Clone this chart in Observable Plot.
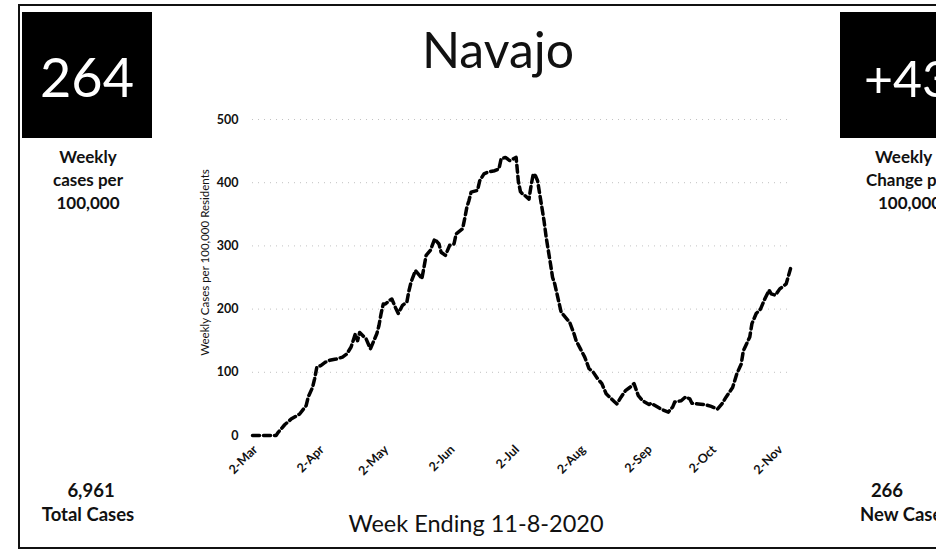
<!DOCTYPE html>
<html>
<head>
<meta charset="utf-8">
<script src="https://cdn.jsdelivr.net/npm/d3@7"></script>
<script src="https://cdn.jsdelivr.net/npm/@observablehq/plot@0.6"></script>
<style>
  html, body { margin: 0; padding: 0; background: #fff; }
  #page { position: relative; width: 936px; height: 554px; overflow: hidden; background: #fff; font-family: Lato, "Open Sans", sans-serif; }
  #overlay { position: absolute; left: 0; top: 0; }
  #chart { position: absolute; left: 160px; top: 100px; }
</style>
</head>
<body>
<div id="page">
  <svg id="overlay" width="936" height="554" font-family="Lato, 'Open Sans', sans-serif">
    <rect x="19" y="5" width="930" height="543" fill="none" stroke="#111" stroke-width="2"></rect>
    <rect x="22" y="12" width="130" height="126" fill="#000"></rect>
    <rect x="840" y="12" width="130" height="126" fill="#000"></rect>
    <text x="87" y="97" text-anchor="middle" font-size="54" fill="#fff">264</text>
    <text x="864" y="97" text-anchor="start" font-size="50" fill="#fff">+43</text>
    <g font-weight="bold" font-size="17" fill="#111">
      <text x="88" y="163" text-anchor="middle">Weekly</text>
      <text x="88" y="186" text-anchor="middle">cases per</text>
      <text x="88" y="209" text-anchor="middle">100,000</text>
      <text x="875" y="163" text-anchor="start">Weekly</text>
      <text x="866" y="186" text-anchor="start">Change per</text>
      <text x="878" y="209" text-anchor="start">100,000</text>
    </g>
    <g font-weight="bold" font-size="18.5" fill="#111">
      <text x="91" y="497" text-anchor="middle">6,961</text>
      <text x="88" y="521" text-anchor="middle">Total Cases</text>
      <text x="887" y="497" text-anchor="middle">266</text>
      <text x="860" y="521" text-anchor="start">New Cases</text>
    </g>
    <text x="498" y="68" text-anchor="middle" font-size="50" fill="#111">Navajo</text>
    <text x="476" y="532" text-anchor="middle" font-size="23.5" fill="#111">Week Ending 11-8-2020</text>
  </svg>
  <div id="chart"></div>
</div>
<script>
// Data (weekly cases per 100,000, by day offset from 2-Mar-2020)
const startDate = "2020-03-02";
const endDate = "2020-11-08";
const dayOffsets = [
  0, 11, 12, 15, 18, 21, 22, 25, 26, 28, 29, 30, 32, 34, 36, 39, 42, 44, 46, 48,
  49, 50, 52, 53, 55, 57, 58, 59, 60, 61, 62, 64, 65, 67, 68, 70, 72, 73, 74, 76,
  78, 79, 80, 81, 83, 85, 87, 88, 90, 92, 94, 95, 98, 99, 100, 101, 102, 105, 106, 108,
  110, 113, 115, 116, 118, 120, 123, 124, 125, 126, 127, 129, 130, 131, 132, 133, 134, 135, 136, 137,
  138, 139, 140, 141, 143, 144, 148, 150, 151, 153, 155, 157, 159, 161, 163, 165, 169, 170, 172, 174,
  176, 178, 180, 182, 185, 186, 189, 191, 194, 196, 197, 200, 202, 204, 205, 208, 211, 214, 217, 219,
  221, 224, 226, 228, 229, 232, 233, 235, 237, 239, 241, 242, 244, 246, 249, 251
];
const weeklyCases = [
  0, 0, 5, 17, 26, 32, 34, 47, 61, 76, 90, 108, 111, 116, 119, 121, 124, 129, 140, 161,
  150, 163, 156, 153, 137, 153, 161, 174, 193, 208, 208, 214, 216, 200, 193, 206, 211, 229, 243, 261,
  253, 248, 266, 285, 293, 311, 303, 290, 285, 301, 303, 319, 327, 343, 361, 372, 385, 388, 403, 414,
  417, 419, 422, 438, 440, 435, 440, 403, 386, 382, 380, 374, 396, 414, 411, 403, 382, 361, 340, 314,
  293, 272, 250, 240, 210, 195, 179, 161, 150, 137, 124, 106, 100, 90, 82, 66, 53, 50, 61, 71,
  76, 82, 63, 55, 49, 51, 45, 41, 37, 45, 53, 55, 61, 58, 51, 50, 49, 46, 42, 50,
  61, 76, 98, 113, 134, 156, 177, 193, 200, 216, 230, 224, 222, 232, 240, 264
];
const yTicks = [0, 100, 200, 300, 400, 500];
const yGrid = [100, 200, 300, 400, 500];
const xTickDates = ["2020-03-02", "2020-04-02", "2020-05-02", "2020-06-02", "2020-07-02", "2020-08-02", "2020-09-02", "2020-10-02", "2020-11-02"];
const yLabel = "Weekly Cases per 100,000 Residents";

const t0 = new Date(startDate + "T00:00:00Z");
const data = dayOffsets.map((d, i) => ({
  date: new Date(t0.getTime() + d * 86400000),
  value: weeklyCases[i]
}));
const xTicks = xTickDates.map(s => new Date(s + "T00:00:00Z"));
const fmt = d3.utcFormat("%-d-%b");

const chart = Plot.plot({
  width: 660,
  height: 380,
  marginLeft: 92,
  marginRight: 30,
  marginTop: 19,
  marginBottom: 45,
  style: { fontFamily: "Lato, 'Open Sans', sans-serif", fontSize: "12px", fontWeight: "bold", color: "#111", background: "transparent", overflow: "visible" },
  x: { type: "utc", domain: [t0, new Date(endDate + "T00:00:00Z")] },
  y: { domain: [0, 500] },
  marks: [
    Plot.gridY(yGrid, { stroke: "#999", strokeOpacity: 0.6, strokeDasharray: "1,5", strokeWidth: 1 }),
    Plot.axisY(yTicks, { tickSize: 0, tickPadding: 14, label: null, fontWeight: "bold", fontSize: 12.5 }),
    Plot.axisX(xTicks, { tickSize: 0, tickPadding: 12, tickRotate: -45, tickFormat: fmt, label: null, fontWeight: "bold", fontSize: 12.5, dx: 3 }),
    Plot.line(data, { x: "date", y: "value", stroke: "#000", strokeWidth: 3.5, strokeDasharray: "7,4", curve: "linear" }),
    Plot.text([yLabel], { text: d => d, frameAnchor: "left", textAnchor: "middle", dx: -47, dy: -15, rotate: -90, fontSize: 11.5, fontWeight: "normal", fill: "#111" })
  ]
});
document.getElementById("chart").appendChild(chart);
</script>
</body>
</html>
